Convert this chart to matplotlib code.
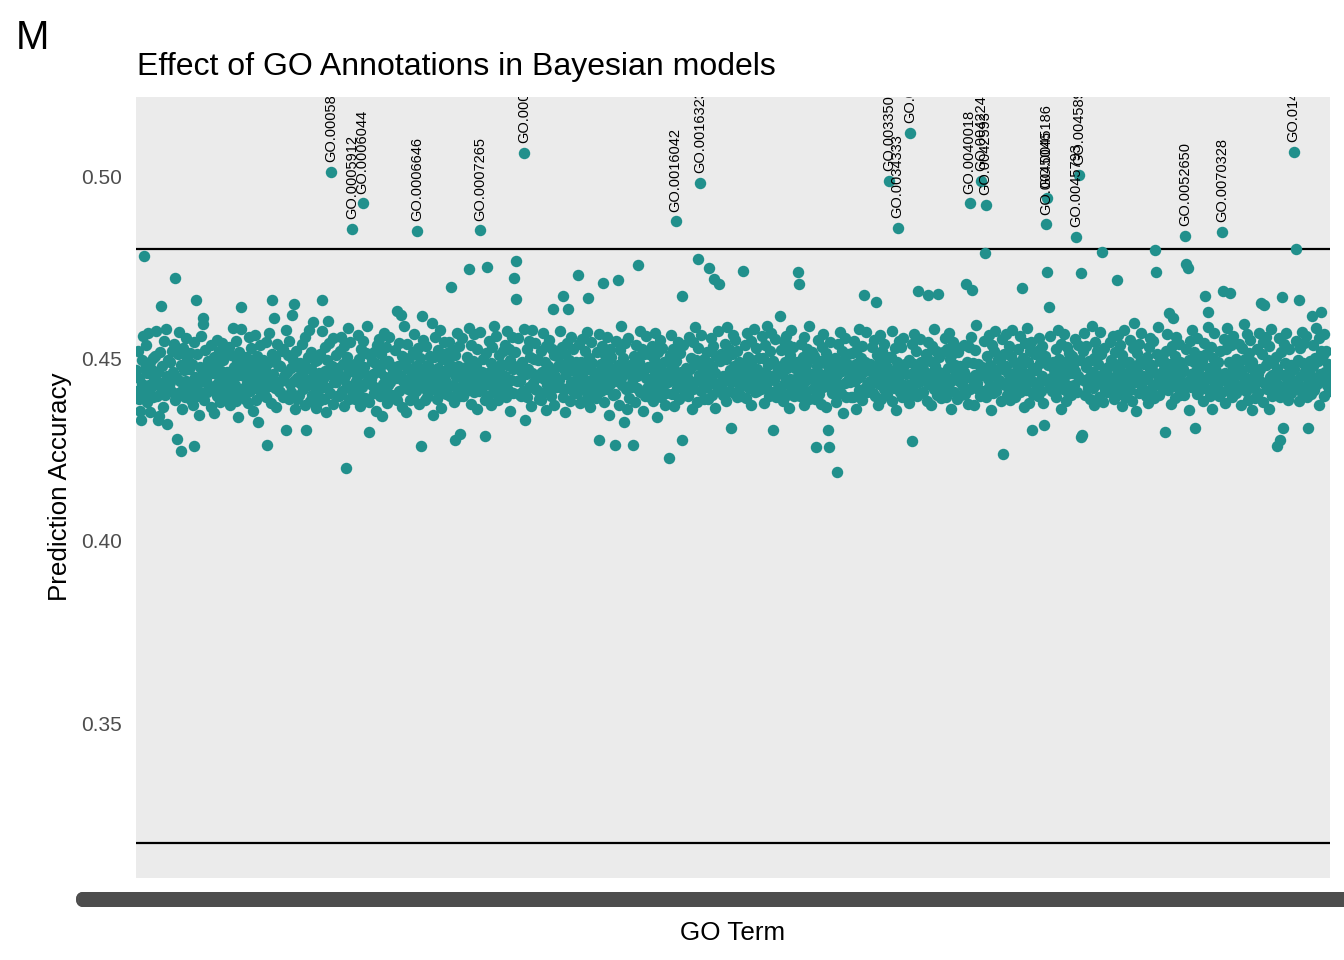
import matplotlib
matplotlib.use('Agg')
import matplotlib.pyplot as plt
import numpy as np

# prediction accuracy per GO term (x 1e-4), terms in alphabetical order
acc_e4 = [
    4468, 4412, 4521, 4389, 4445, 4357, 4330, 4496, 4430, 4561, 4780, 4472, 4403, 4538, 4459, 4381, 4570, 4427, 4490, 4352, 4421, 4468, 4395, 4502, 4447,
    4506, 4441, 4575, 4398, 4330, 4463, 4343, 4517, 4420, 4645, 4478, 4366, 4548, 4435, 4401, 4582, 4452, 4319, 4497, 4428, 4436, 4489, 4411, 4455, 4520,
    4463, 4539, 4387, 4720, 4449, 4280, 4512, 4406, 4573, 4438, 4245, 4481, 4360, 4529, 4415, 4467, 4395, 4556, 4437, 4502, 4402, 4470, 4431, 4514, 4387,
    4421, 4485, 4373, 4544, 4259, 4450, 4660, 4398, 4513, 4432, 4344, 4477, 4409, 4562, 4455, 4610, 4595, 4386, 4523, 4441, 4459, 4408, 4493, 4426, 4475,
    4492, 4368, 4536, 4417, 4459, 4505, 4351, 4474, 4428, 4551, 4396, 4488, 4437, 4520, 4380, 4466, 4543, 4412, 4497, 4450, 4440, 4512, 4397, 4463, 4428,
    4414, 4531, 4461, 4372, 4509, 4445, 4583, 4399, 4476, 4426, 4547, 4384, 4493, 4340, 4455, 4518, 4402, 4640, 4580, 4465, 4483, 4419, 4451, 4390, 4505,
    4433, 4502, 4377, 4559, 4448, 4410, 4528, 4469, 4357, 4491, 4420, 4565, 4443, 4385, 4507, 4458, 4327, 4482, 4536, 4404, 4466, 4429, 4496, 4414, 4452,
    4471, 4395, 4545, 4262, 4487, 4424, 4569, 4440, 4379, 4513, 4660, 4456, 4610, 4418, 4500, 4368, 4539, 4435, 4482, 4411, 4407, 4478, 4438, 4521, 4393,
    4526, 4452, 4397, 4577, 4303, 4464, 4510, 4389, 4548, 4431, 4474, 4408, 4620, 4495, 4437, 4650, 4362, 4521, 4447, 4390, 4445, 4401, 4487, 4432, 4468,
    4459, 4540, 4415, 4486, 4372, 4558, 4303, 4441, 4503, 4426, 4579, 4383, 4470, 4517, 4400, 4453, 4601, 4434, 4494, 4365, 4424, 4497, 4411, 4459, 4383,
    4512, 4429, 4575, 4660, 4444, 4388, 4530, 4466, 4352, 4497, 4419, 4603, 4541, 4457, 4405, 5012, 4480, 4374, 4556, 4436, 4471, 4435, 4509, 4398, 4450,
    4473, 4398, 4520, 4445, 4560, 4412, 4486, 4369, 4535, 4451, 4199, 4503, 4427, 4584, 4390, 4468, 4545, 4416, 4481, 4856, 4413, 4462, 4390, 4485, 4439,
    4438, 4563, 4404, 4499, 4370, 4527, 4459, 4422, 4925, 4547, 4476, 4391, 4516, 4433, 4590, 4452, 4381, 4297, 4509, 4444, 4492, 4427, 4456, 4404, 4518,
    4487, 4356, 4538, 4418, 4471, 4553, 4397, 4462, 4512, 4341, 4484, 4430, 4570, 4449, 4406, 4531, 4378, 4493, 4426, 4558, 4434, 4480, 4399, 4447, 4463,
    4461, 4400, 4523, 4447, 4385, 4630, 4478, 4541, 4412, 4455, 4620, 4368, 4506, 4437, 4588, 4423, 4492, 4352, 4540, 4470, 4416, 4501, 4445, 4386, 4472,
    4432, 4517, 4395, 4566, 4446, 4480, 4410, 4849, 4528, 4374, 4459, 4501, 4259, 4436, 4615, 4550, 4418, 4475, 4387, 4534, 4458, 4395, 4483, 4430, 4507,
    4452, 4413, 4596, 4469, 4344, 4505, 4428, 4560, 4441, 4389, 4522, 4474, 4408, 4578, 4456, 4363, 4498, 4435, 4546, 4419, 4441, 4469, 4402, 4516, 4425,
    4488, 4544, 4397, 4695, 4463, 4520, 4426, 4380, 4275, 4509, 4450, 4571, 4415, 4479, 4534, 4398, 4292, 4466, 4555, 4431, 4397, 4454, 4432, 4476, 4411,
    4503, 4420, 4583, 4744, 4446, 4376, 4537, 4458, 4494, 4409, 4566, 4432, 4482, 4361, 4525, 4447, 4412, 4572, 4851, 4440, 4463, 4418, 4499, 4444, 4385,
    4286, 4515, 4750, 4461, 4398, 4549, 4436, 4488, 4372, 4531, 4419, 4476, 4590, 4443, 4405, 4562, 4455, 4386, 4510, 4467, 4427, 4486, 4409, 4452, 4521,
    4425, 4538, 4452, 4393, 4574, 4481, 4414, 4526, 4357, 4497, 4441, 4560, 4470, 4404, 4720, 4518, 4664, 4766, 4438, 4555, 4479, 4403, 4437, 4465, 4396,
    4489, 4410, 4582, 5064, 4330, 4456, 4527, 4394, 4472, 4548, 4421, 4505, 4369, 4461, 4577, 4433, 4498, 4416, 4541, 4450, 4414, 4495, 4448, 4389, 4458,
    4387, 4520, 4463, 4405, 4569, 4444, 4491, 4359, 4534, 4427, 4480, 4551, 4413, 4466, 4398, 4527, 4452, 4636, 4372, 4509, 4452, 4421, 4508, 4436, 4480,
    4440, 4576, 4421, 4485, 4532, 4670, 4395, 4470, 4512, 4352, 4458, 4543, 4635, 4418, 4497, 4382, 4560, 4435, 4474, 4525, 4406, 4466, 4428, 4491, 4443,
    4406, 4730, 4463, 4539, 4377, 4490, 4428, 4553, 4447, 4384, 4521, 4469, 4410, 4573, 4665, 4438, 4502, 4366, 4482, 4544, 4487, 4433, 4395, 4459, 4412,
    4455, 4392, 4518, 4463, 4275, 4567, 4430, 4486, 4411, 4535, 4708, 4449, 4380, 4509, 4472, 4559, 4417, 4493, 4346, 4527, 4429, 4504, 4446, 4401, 4470,
    4461, 4403, 4262, 4548, 4437, 4715, 4481, 4372, 4523, 4445, 4590, 4426, 4500, 4325, 4467, 4541, 4415, 4478, 4362, 4556, 4464, 4392, 4481, 4423, 4449,
    4432, 4262, 4506, 4464, 4381, 4537, 4451, 4419, 4755, 4490, 4574, 4408, 4473, 4526, 4356, 4459, 4512, 4398, 4445, 4561, 4418, 4477, 4440, 4513, 4394,
    4476, 4421, 4535, 4383, 4498, 4453, 4571, 4412, 4466, 4340, 4517, 4439, 4482, 4550, 4395, 4460, 4528, 4427, 4489, 4371, 4448, 4405, 4492, 4435, 4462,
    4226, 4509, 4441, 4565, 4403, 4478, 4525, 4369, 4457, 4876, 4492, 4420, 4546, 4434, 4388, 4514, 4463, 4670, 4275, 4536, 4401, 4458, 4427, 4474, 4415,
    4448, 4397, 4559, 4470, 4426, 4502, 4361, 4544, 4415, 4481, 4587, 4438, 4496, 4380, 4529, 4774, 4455, 4981, 4410, 4563, 4476, 4431, 4389, 4498, 4444,
    4467, 4423, 4518, 4390, 4487, 4747, 4444, 4556, 4401, 4476, 4533, 4718, 4365, 4459, 4506, 4431, 4574, 4418, 4703, 4492, 4435, 4511, 4416, 4453, 4400,
    4439, 4540, 4382, 4498, 4585, 4454, 4411, 4527, 4469, 4308, 4513, 4436, 4563, 4479, 4404, 4550, 4446, 4393, 4520, 4461, 4489, 4422, 4468, 4398, 4441,
    4484, 4740, 4427, 4536, 4460, 4392, 4571, 4445, 4503, 4418, 4479, 4549, 4371, 4495, 4432, 4581, 4454, 4409, 4528, 4470, 4410, 4456, 4433, 4502, 4427,
    4415, 4562, 4448, 4500, 4378, 4537, 4463, 4425, 4589, 4438, 4482, 4396, 4519, 4452, 4571, 4407, 4303, 4493, 4441, 4554, 4457, 4394, 4479, 4420, 4466,
    4468, 4615, 4410, 4523, 4456, 4383, 4547, 4429, 4491, 4562, 4400, 4475, 4536, 4363, 4510, 4444, 4578, 4420, 4487, 4532, 4398, 4473, 4442, 4410, 4490,
    4736, 4451, 4703, 4397, 4540, 4466, 4426, 4505, 4373, 4558, 4437, 4483, 4412, 4527, 4461, 4590, 4389, 4499, 4445, 4518, 4444, 4417, 4506, 4461, 4388,
    4256, 4479, 4434, 4551, 4402, 4493, 4458, 4376, 4532, 4423, 4568, 4447, 4488, 4366, 4514, 4439, 4303, 4256, 4472, 4545, 4420, 4490, 4404, 4447, 4473,
    4417, 4502, 4381, 4188, 4455, 4539, 4428, 4481, 4573, 4406, 4465, 4520, 4349, 4497, 4432, 4556, 4393, 4476, 4441, 4513, 4482, 4436, 4459, 4393, 4515,
    4458, 4395, 4547, 4437, 4486, 4362, 4525, 4470, 4414, 4580, 4449, 4501, 4385, 4533, 4462, 4673, 4419, 4490, 4572, 4428, 4409, 4467, 4425, 4484, 4438,
    4475, 4532, 4404, 4466, 4551, 4398, 4654, 4443, 4510, 4371, 4484, 4429, 4565, 4452, 4390, 4519, 4461, 4540, 4416, 4495, 4455, 4399, 4476, 4430, 4503,
    4987, 4437, 4504, 4383, 4576, 4450, 4420, 4529, 4467, 4358, 4491, 4859, 4442, 4548, 4408, 4478, 4531, 4394, 4462, 4555, 4426, 4485, 4412, 4458, 4391,
    4426, 4497, 4378, 5118, 4456, 4273, 4539, 4413, 4484, 4567, 4440, 4520, 4397, 4471, 4686, 4435, 4552, 4405, 4489, 4458, 4470, 4408, 4493, 4439, 4451,
    4512, 4384, 4546, 4675, 4430, 4494, 4461, 4371, 4535, 4448, 4582, 4417, 4478, 4520, 4399, 4466, 4678, 4441, 4503, 4427, 4392, 4461, 4434, 4517, 4419,
    4557, 4452, 4393, 4526, 4474, 4418, 4570, 4436, 4498, 4362, 4511, 4445, 4546, 4407, 4481, 4532, 4456, 4389, 4517, 4469, 4438, 4480, 4401, 4465, 4429,
    4425, 4538, 4463, 4402, 4705, 4490, 4449, 4376, 4531, 4925, 4416, 4560, 4688, 4441, 4487, 4372, 4524, 4454, 4591, 4433, 4486, 4415, 4452, 4396, 4474,
    4987, 4476, 4412, 4549, 4458, 4788, 4921, 4395, 4507, 4443, 4565, 4421, 4482, 4359, 4538, 4467, 4404, 4520, 4451, 4576, 4412, 4469, 4426, 4499, 4440,
    4436, 4495, 4383, 4552, 4470, 4237, 4513, 4427, 4478, 4568, 4399, 4461, 4534, 4441, 4387, 4506, 4455, 4579, 4418, 4489, 4461, 4393, 4487, 4428, 4456,
    4527, 4448, 4409, 4561, 4473, 4694, 4432, 4500, 4366, 4541, 4458, 4413, 4584, 4436, 4490, 4377, 4519, 4464, 4545, 4303, 4403, 4474, 4436, 4512, 4417,
    4469, 4520, 4397, 4556, 4431, 4487, 4412, 4535, 4452, 4378, 4318, 4506, 4440, 4868, 4940, 4738, 4483, 4642, 4425, 4561, 4447, 4411, 4490, 4432, 4468,
    4453, 4394, 4525, 4470, 4578, 4418, 4499, 4447, 4362, 4540, 4462, 4415, 4568, 4436, 4491, 4383, 4530, 4457, 4404, 4515, 4478, 4425, 4400, 4461, 4506,
    4481, 4426, 4552, 4466, 4834, 4409, 4538, 4451, 5004, 4495, 4733, 4285, 4290, 4520, 4442, 4569, 4401, 4476, 4533, 4433, 4419, 4492, 4445, 4388, 4454,
    4463, 4589, 4419, 4502, 4372, 4546, 4455, 4431, 4520, 4486, 4395, 4573, 4440, 4511, 4793, 4458, 4380, 4529, 4470, 4413, 4466, 4407, 4477, 4424, 4441,
    4545, 4437, 4496, 4407, 4561, 4450, 4388, 4518, 4476, 4714, 4429, 4563, 4402, 4484, 4537, 4446, 4369, 4509, 4461, 4578, 4395, 4452, 4418, 4488, 4430,
    4422, 4490, 4551, 4414, 4467, 4383, 4528, 4448, 4596, 4435, 4479, 4356, 4515, 4460, 4540, 4406, 4489, 4439, 4570, 4420, 4451, 4484, 4409, 4446, 4398,
    4503, 4443, 4379, 4530, 4471, 4556, 4415, 4482, 4427, 4547, 4392, 4460, 4797, 4738, 4512, 4438, 4585, 4401, 4493, 4457, 4424, 4460, 4497, 4415, 4471,
    4297, 4521, 4440, 4568, 4413, 4486, 4625, 4452, 4374, 4534, 4465, 4611, 4429, 4506, 4391, 4559, 4447, 4480, 4418, 4540, 4489, 4401, 4439, 4463, 4420,
    4470, 4401, 4837, 4527, 4758, 4436, 4748, 4495, 4359, 4549, 4458, 4423, 4578, 4441, 4489, 4517, 4308, 4465, 4402, 4556, 4407, 4475, 4428, 4506, 4448,
    4432, 4494, 4383, 4541, 4670, 4450, 4512, 4416, 4586, 4628, 4473, 4397, 4530, 4444, 4361, 4501, 4459, 4570, 4425, 4488, 4465, 4414, 4490, 4435, 4397,
    4519, 4442, 4407, 4847, 4686, 4552, 4460, 4378, 4526, 4434, 4583, 4413, 4491, 4680, 4447, 4537, 4395, 4472, 4561, 4428, 4431, 4499, 4404, 4457, 4479,
    4485, 4540, 4418, 4463, 4372, 4528, 4451, 4594, 4436, 4499, 4410, 4567, 4445, 4386, 4514, 4476, 4550, 4423, 4490, 4359, 4476, 4420, 4461, 4392, 4443,
    4527, 4456, 4404, 4569, 4471, 4437, 4653, 4512, 4380, 4546, 4647, 4429, 4483, 4559, 4415, 4496, 4362, 4534, 4448, 4580, 4398, 4454, 4487, 4426, 4410,
    4441, 4503, 4259, 4472, 4427, 4555, 4395, 4275, 4518, 4668, 4454, 4308, 4539, 4410, 4487, 4570, 4433, 4461, 4385, 4526, 4448, 4481, 4405, 4469, 4432,
    5066, 4470, 4418, 4548, 4799, 4436, 4497, 4382, 4660, 4529, 4451, 4573, 4404, 4488, 4541, 4425, 4466, 4562, 4393, 4308, 4415, 4463, 4440, 4494, 4402,
    4617, 4479, 4537, 4413, 4501, 4446, 4584, 4430, 4492, 4371, 4555, 4458, 4520, 4627, 4441, 4509, 4398, 4566, 4463, 4520, 4459, 4427, 4484, 4411, 4447,
]

# labelled terms (accuracy above the upper threshold), in axis order
hit_terms = [
    'GO.0005829', 'GO.0005912', 'GO.0006044', 'GO.0006646', 'GO.0007265',
    'GO.0008380', 'GO.0016042', 'GO.0016323', 'GO.0033500', 'GO.0034333',
    'GO.0035556', 'GO.0040018', 'GO.0042246', 'GO.0042593', 'GO.0045046',
    'GO.0045186', 'GO.0045793', 'GO.0045892', 'GO.0052650', 'GO.0070328',
    'GO.0140053',
]

upper_cut = 0.48
lower_cut = 0.3172

acc = np.array(acc_e4) / 1e4
n = len(acc)
x = np.arange(n)
hits = np.where(acc > upper_cut)[0]

go_terms = ['GO.%07d' % (1000 + 80 * k) for k in range(n)]
for k, idx in enumerate(hits):
    go_terms[idx] = hit_terms[k]

plt.rcParams['font.family'] = ['Liberation Sans', 'DejaVu Sans']

W, H = 1344, 960
fig = plt.figure(figsize=(W / 100, H / 100), dpi=100)
ax = fig.add_axes([136 / W, (H - 878) / H, (1330 - 136) / W, (878 - 97) / H])
ax.set_facecolor('#EBEBEB')
for s in ax.spines.values():
    s.set_visible(False)

ax.axhline(upper_cut, color='black', lw=1.6, zorder=1)
ax.axhline(lower_cut, color='black', lw=1.6, zorder=1)
ax.scatter(x, acc, s=68, color='#21908C', linewidths=0, zorder=2)

for idx in hits:
    ax.annotate(go_terms[idx], (x[idx], acc[idx]), xytext=(0, 7),
                textcoords='offset points', rotation=90, ha='center',
                va='bottom', fontsize=10.5, color='black', clip_on=True,
                zorder=3)

ax.set_xlim(-0.6, n - 1 + 0.6)
ax.set_ylim(0.3075, 0.5217)
ax.set_yticks([0.35, 0.40, 0.45, 0.50])
ax.set_yticklabels(['0.35', '0.40', '0.45', '0.50'])
ax.set_xticks(x)
ax.set_xticklabels(go_terms)
ax.tick_params(axis='both', length=0, labelsize=15, labelcolor='#4D4D4D')
ax.tick_params(axis='x', labelsize=15.5, pad=9.5)
ax.tick_params(axis='y', pad=10)

fig.text((136 + 1330) / 2 / W, 1 - 933 / H, 'GO Term', ha='center',
         va='center', fontsize=18.7)
fig.text(60 / W, 1 - 487 / H, 'Prediction Accuracy', rotation=90,
         ha='center', va='center', fontsize=18.7)
fig.text(137 / W, 1 - 67 / H, 'Effect of GO Annotations in Bayesian models',
         ha='left', va='center', fontsize=23)
fig.text(16 / W, 1 - 38 / H, 'M', ha='left', va='center', fontsize=29)

fig.savefig('out.png', dpi=100)
